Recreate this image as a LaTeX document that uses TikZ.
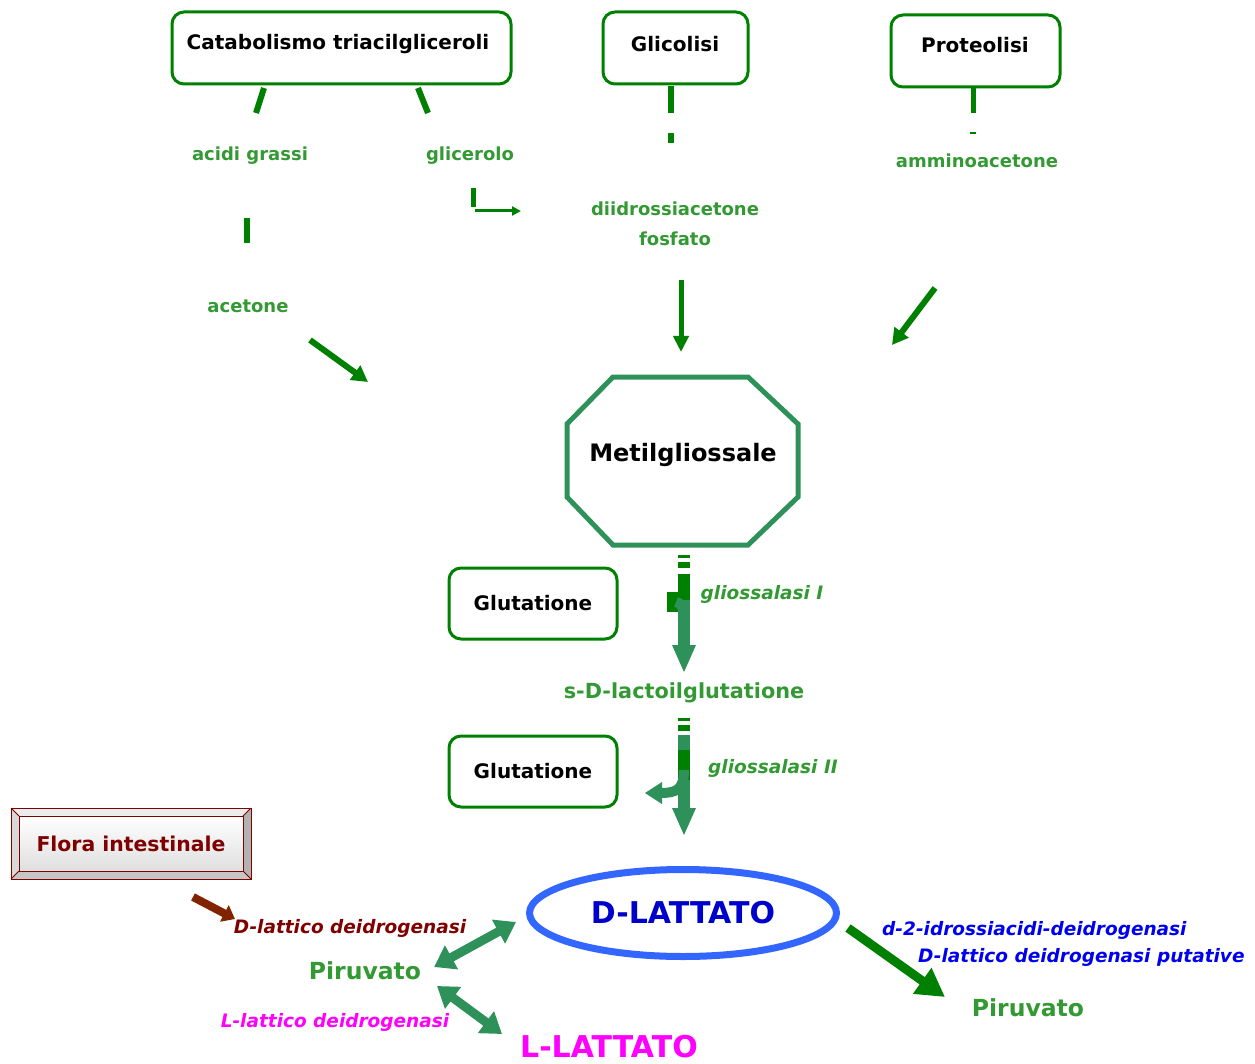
\documentclass[tikz,border=0pt]{standalone}
\usepackage{fontspec}
\setmainfont{DejaVu Sans}
\usetikzlibrary{arrows.meta,shapes.geometric}
\definecolor{boxgreen}{RGB}{0,128,0}
\definecolor{txtgreen}{RGB}{51,153,51}
\definecolor{seagr}{RGB}{46,145,90}
\definecolor{darkred}{RGB}{128,0,0}
\definecolor{brownar}{RGB}{130,35,0}
\definecolor{ellblue}{RGB}{51,102,255}
\definecolor{enzblue}{RGB}{0,0,240}
\definecolor{magen}{RGB}{255,0,255}
\begin{document}
\begin{tikzpicture}[x=1pt,y=-1pt,
  srcbox/.style={draw=boxgreen,line width=3pt,rounded corners=12pt,fill=white,inner sep=0pt,font=\fontsize{20}{22}\selectfont\bfseries},
  gtxt/.style={text=txtgreen,font=\fontsize{18}{22}\selectfont\bfseries,align=center,inner sep=0pt},
  enz/.style={font=\fontsize{18.5}{21}\selectfont\bfseries\itshape,inner sep=0pt},
  seg/.style={draw=boxgreen,line width=6pt},
  garrow/.style={draw=boxgreen,line width=6pt,-{Triangle[length=16pt,width=17pt]}},
  dbl/.style={draw=seagr,line width=9pt,{Triangle[length=20pt,width=26pt]}-{Triangle[length=20pt,width=26pt]}}
]
\useasboundingbox (0,0) rectangle (1255,1064);
% source boxes
\node[srcbox,minimum width=339pt,minimum height=72pt] (cat) at (341.5,48) {};
\node[srcbox,minimum width=145pt,minimum height=72pt] (gli) at (675.5,48) {};
\node[srcbox,minimum width=169pt,minimum height=72pt] (pro) at (975.5,51) {};
\node[font=\fontsize{20}{22}\selectfont\bfseries,inner sep=0pt] (catt) at (338,44) {Catabolismo triacilgliceroli};
\node[font=\fontsize{20}{22}\selectfont\bfseries,inner sep=0pt] (glit) at (675,44) {Glicolisi};
\node[font=\fontsize{20}{22}\selectfont\bfseries,inner sep=0pt] (prot) at (975,45) {Proteolisi};
% intermediate labels
\node[gtxt] (ag) at (250,156) {acidi grassi};
\node[gtxt] (glc) at (470,156) {glicerolo};
\node[gtxt] (dhap) at (675,224) {diidrossiacetone\\[8pt]fosfato};
\node[gtxt] (ami) at (977,161) {amminoacetone};
\node[gtxt] (ace) at (248,306) {acetone};
% dashed connector fragments
\draw[seg] (264,88) -- (256,113);
\draw[seg] (247,218) -- (247,243);
\draw[garrow] (310,340) -- (368,382);
\draw[seg] (418,88) -- (428,113);
\draw[draw=boxgreen,line width=5pt] (473,188) -- (473,207);
\draw[draw=boxgreen,line width=3pt,-{Triangle[length=9pt,width=9pt]}] (475,211) -- (521,211);
\draw[seg] (671,86) -- (671,113);
\draw[seg] (671,133) -- (671,143);
\draw[draw=boxgreen,line width=5pt] (973,88) -- (973,113);
\draw[draw=boxgreen,line width=2pt] (970,133) -- (976,133);
\draw[draw=boxgreen,line width=5pt,-{Triangle[length=16pt,width=15pt]}] (681,280) -- (681,352);
\draw[draw=boxgreen,line width=6pt,-{Triangle[length=16pt,width=17pt]}] (935,288) -- (892,345);
% octagon
\draw[draw=seagr,line width=5pt,line join=miter] (613,377) -- (748,377) -- (798,424) -- (798,497) -- (748,545) -- (613,545) -- (567,497) -- (567,424) -- cycle;
\node[font=\fontsize{24}{28}\selectfont\bfseries] (met) at (683,455) {Metilgliossale};
% glutatione boxes
\node[srcbox,minimum width=168pt,minimum height=71pt] (glu1) at (533,603.5) {Glutatione};
\node[srcbox,minimum width=168pt,minimum height=71pt] (glu2) at (533,771.5) {Glutatione};
% gliossalasi I arrow
\fill[boxgreen] (678,555) rectangle (690,558);
\fill[boxgreen] (678,562) rectangle (690,568);
\fill[boxgreen] (667,592) rectangle (684,612);
\draw[draw=seagr,line width=12pt] (684,574) -- (684,648);
\draw[draw=boxgreen,line width=12pt] (684,574) -- (684,600);
\draw[draw=seagr,line width=10pt] (676,602) .. controls (684,604) and (684,612) .. (684,630);
\fill[seagr] (672,645) -- (696,645) -- (684,672) -- cycle;
\node[enz,text=txtgreen] (g1) at (762,594) {gliossalasi I};
\node[text=txtgreen,font=\fontsize{20.8}{24}\selectfont\bfseries,inner sep=0pt] (sdl) at (684,693) {s-D-lactoilglutatione};
% gliossalasi II arrow
\fill[boxgreen] (678,718) rectangle (690,721);
\fill[boxgreen] (678,725) rectangle (690,731);
\draw[draw=seagr,line width=12pt] (684,735) -- (684,810);
\draw[draw=boxgreen,line width=12pt] (684,750) -- (684,780);
\draw[draw=seagr,line width=10pt] (684,770) .. controls (684,790) and (676,793) .. (660,793);
\fill[seagr] (662,782) -- (662,804) -- (645,793) -- cycle;
\fill[seagr] (672,808) -- (696,808) -- (684,835) -- cycle;
\node[enz,text=txtgreen] (g2) at (773,768) {gliossalasi II};
% flora intestinale box
\fill[gray!45] (11,808) rectangle (251,879);
\fill[gray!15] (11,808) -- (251,808) -- (243,816) -- (19,816) -- cycle;
\fill[gray!60] (251,808) -- (251,879) -- (243,871) -- (243,816) -- cycle;
\fill[gray!30] (11,808) -- (19,816) -- (19,871) -- (11,879) -- cycle;
\shade[top color=white,bottom color=gray!25] (19,816) rectangle (243,871);
\draw[darkred,line width=1pt] (11,808) rectangle (251,879);
\draw[darkred,line width=1pt] (19,816) rectangle (243,871);
\draw[darkred,line width=0.8pt] (11,808) -- (19,816) (251,808) -- (243,816) (251,879) -- (243,871) (11,879) -- (19,871);
\node[text=darkred,font=\fontsize{20.4}{22}\selectfont\bfseries,inner sep=0pt] (flora) at (131,844) {Flora intestinale};
\draw[draw=brownar,line width=8pt,-{Triangle[length=12pt,width=18pt]}] (193,897) -- (235,919);
\node[enz,text=darkred] (dld) at (350,928) {D-lattico deidrogenasi};
% D-lattato
\node[ellipse,draw=ellblue,line width=7pt,minimum width=307pt,minimum height=87pt,text=enzblue!85!black,font=\fontsize{30}{32}\selectfont\bfseries,inner sep=0pt] (dl) at (683,913) {D-LATTATO};
\node[text=txtgreen,font=\fontsize{23.5}{26}\selectfont\bfseries,inner sep=0pt] (pir1) at (365,971) {Piruvato};
\draw[dbl] (434,967) -- (516,922);
\draw[dbl] (437,986) -- (502,1034);
\node[enz,text=magen] (lld) at (335,1022) {L-lattico deidrogenasi};
\node[text=magen,font=\fontsize{30}{32}\selectfont\bfseries,inner sep=0pt] (ll) at (609,1047) {L-LATTATO};
\draw[draw=boxgreen,line width=9pt,-{Triangle[length=28pt,width=30pt]}] (848,928) -- (945,997);
\node[enz,text=enzblue,anchor=west] (d2) at (882,930) {d-2-idrossiacidi-deidrogenasi};
\node[enz,text=enzblue,anchor=west] (dput) at (918,957) {D-lattico deidrogenasi putative};
\node[text=txtgreen,font=\fontsize{23.5}{26}\selectfont\bfseries,inner sep=0pt] (pir2) at (1028,1008) {Piruvato};
\end{tikzpicture}
\end{document}
